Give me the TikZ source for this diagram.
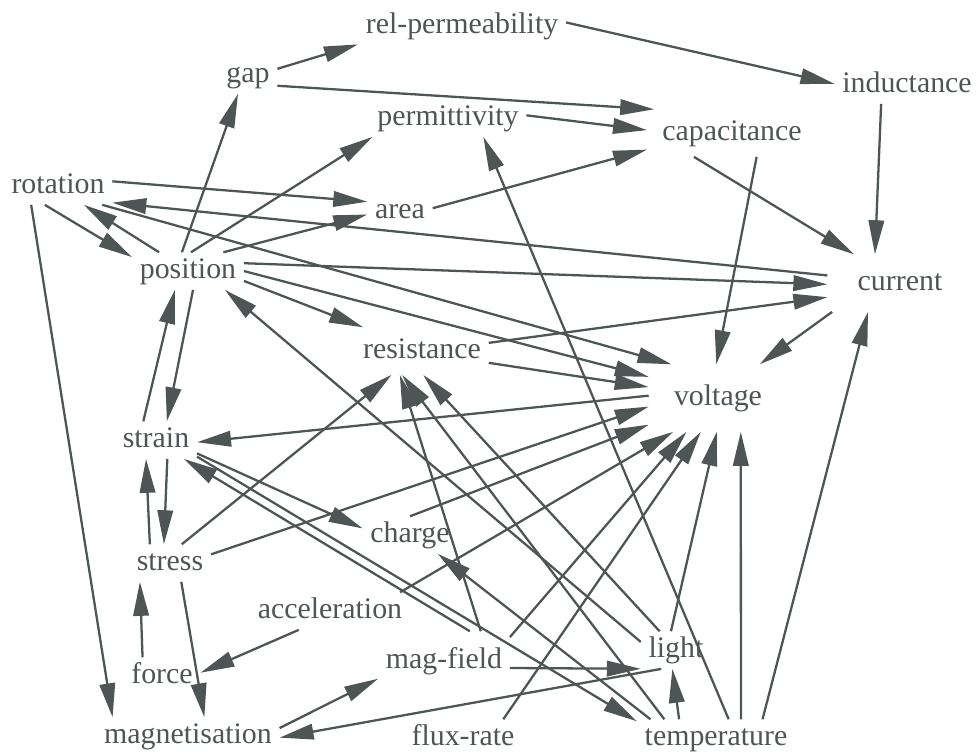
\documentclass[tikz,border=0pt]{standalone}
\usepackage{fontspec}
\setmainfont{Liberation Serif}
\usepackage{tikz}
\usetikzlibrary{arrows.meta}
\definecolor{ink}{RGB}{78,85,85}

\begin{document}
\begin{tikzpicture}[x=0.02cm,y=-0.02cm,
  lbl/.style={anchor=base,text=ink,font=\fontsize{17}{20}\selectfont,
    inner xsep=0.15cm,inner ysep=0.1cm,text height=11.6pt,text depth=3.7pt},
  arr/.style={draw=ink,line width=1.3pt,-{Triangle[length=0.68cm,width=0.31cm]}}]
  \useasboundingbox (0,0) rectangle (977,752);
  \node[lbl] (relperm) at (462,33) {rel-permeability};
  \node[lbl] (gap) at (248,82) {gap};
  \node[lbl] (inductance) at (907,92) {inductance};
  \node[lbl] (permittivity) at (448,125) {permittivity};
  \node[lbl,inner xsep=0.3cm,inner ysep=0.2cm] (capacitance) at (732,140) {capacitance};
  \node[lbl] (rotation) at (58,193) {rotation};
  \node[lbl] (area) at (400,218) {area};
  \node[lbl] (position) at (188,278) {position};
  \node[lbl,inner xsep=0.6cm,inner ysep=0.3cm] (current) at (900,290) {current};
  \node[lbl,inner ysep=0.2cm] (resistance) at (422,358) {resistance};
  \node[lbl,inner xsep=0.5cm,inner ysep=0.4cm] (voltage) at (718,405) {voltage};
  \node[lbl] (strain) at (156,447) {strain};
  \node[lbl] (charge) at (410,542) {charge};
  \node[lbl] (stress) at (170,570) {stress};
  \node[lbl] (acceleration) at (330,618) {acceleration};
  \node[lbl] (force) at (162,683) {force};
  \node[lbl,inner ysep=0.32cm] (magfield) at (444,668) {mag-field};
  \node[lbl] (light) at (676,657) {light};
  \node[lbl] (magnetisation) at (188,743) {magnetisation};
  \node[lbl] (fluxrate) at (463,745) {flux-rate};
  \node[lbl] (temperature) at (716,745) {temperature};

  \draw[arr] (gap.12) -- (relperm.-170);
  \draw[arr] (relperm.2) -- (inductance.179);
  \draw[arr] (gap.-20) -- (capacitance.163);
  \draw[arr] (permittivity.2) -- (capacitance.178);
  \draw[arr] (area.5) -- (capacitance.-169);
  \draw[arr] (inductance.-144) -- (current.131);
  \draw[arr] (capacitance.-148) -- (current.148);
  \draw[arr] (capacitance.-44) -- (voltage.93);
  \draw[arr] (rotation.5) -- (area.164);
  \draw[arr] (current.174) -- (rotation.-17);
  \draw[arr] (rotation.-125) -- (position.166);
  \draw[arr] (position.147) -- (rotation.-36);
  \draw[arr] (position.108) -- (gap.-118);
  \draw[arr] (position.81) -- (permittivity.-166);
  \draw[arr] (position.28) -- (area.-174);
  \draw[arr] (rotation.-23) -- (voltage.144);
  \draw[arr] (position.8) -- (current.-179);
  \draw[arr] (position.0) -- (voltage.163);
  \draw[arr] (position.-10) -- (resistance.158);
  \draw[arr] (resistance.7) -- (current.-169);
  \draw[arr] (resistance.-10) -- (voltage.171);
  \draw[arr] (current.-157) -- (voltage.39);
  \draw[arr] (voltage.178) -- (strain.-3);
  \draw[arr] (strain.124) -- (position.-125);
  \draw[arr] (position.-75) -- (strain.60);
  \draw[arr] (strain.-59) -- (stress.108);
  \draw[arr] (stress.137) -- (strain.-118);
  \draw[arr] (force.136) -- (stress.-148);
  \draw[arr] (stress.-59) -- (magnetisation.49);
  \draw[arr] (rotation.-145) -- (magnetisation.166);
  \draw[arr] (acceleration.-149) -- (force.5);
  \draw[arr] (magnetisation.5) -- (magfield.-165);
  \draw[arr] (light.-128) -- (magnetisation.-1);
  \draw[arr] (magfield.-6) -- (light.-152);
  \draw[arr] (temperature.153) -- (light.-101);
  \draw[arr] (stress.58) -- (resistance.-142);
  \draw[arr] (stress.12) -- (voltage.-173);
  \draw[arr] (strain.-18) -- (charge.172);
  \draw[arr] (magfield.49) -- (strain.-34);
  \draw[arr] (strain.-22) -- (temperature.168);
  \draw[arr] (charge.90) -- (voltage.-159);
  \draw[arr] (acceleration.15) -- (voltage.-143);
  \draw[arr] (temperature.164) -- (charge.-34);
  \draw[arr] (magfield.39) -- (resistance.-133);
  \draw[arr] (temperature.160) -- (resistance.-130);
  \draw[arr] (light.131) -- (resistance.-87);
  \draw[arr] (light.167) -- (position.-27);
  \draw[arr] (temperature.56) -- (permittivity.-28);
  \draw[arr] (temperature.37) -- (voltage.-56);
  \draw[arr] (temperature.22) -- (current.-138);
  \draw[arr] (light.105) -- (voltage.-92);
  \draw[arr] (fluxrate.25) -- (voltage.-117);
  \draw[arr] (magfield.20) -- (voltage.-133);
\end{tikzpicture}
\end{document}
